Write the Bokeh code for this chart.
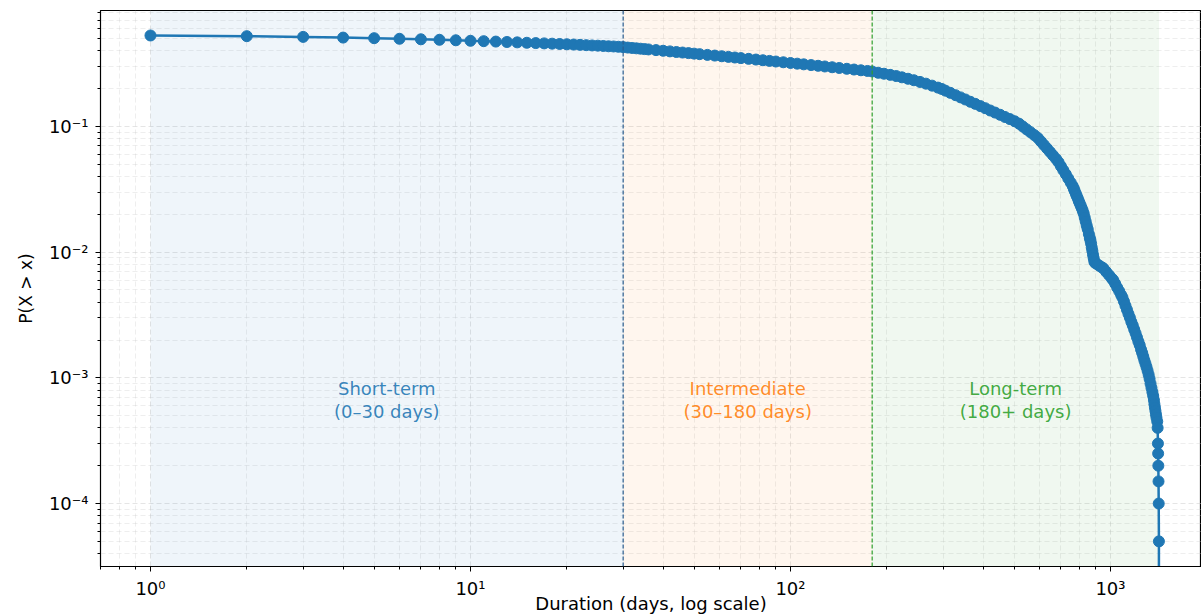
from bokeh.plotting import figure
from bokeh.models import BoxAnnotation, Span, FixedTicker, CustomJSTickFormatter, ColumnDataSource, Range1d
from bokeh.core.properties import value
from bokeh.embed import file_html
from bokeh.resources import INLINE

# ---------------- data ----------------
durations = [
    1, 2, 3, 4, 5, 6, 7, 8, 9, 10, 11, 12, 13, 14, 15, 16, 17, 18, 19, 20,
    21, 22, 23, 24, 25, 26, 27, 28, 29, 30,
    31, 32, 33, 34, 35, 36, 38, 40, 42, 44, 46, 48, 50, 52, 55, 58, 61, 64, 67, 70,
    74, 78, 82, 86, 90, 95, 100, 105, 110, 116, 122, 128, 135, 142, 150, 158, 166, 174, 180,
    188, 196, 205, 214, 223, 233, 243, 254, 265, 277, 289, 297,
    305, 316, 328, 340, 352, 365, 378, 392,
    406, 421, 436, 452, 468, 485, 502,
    518, 532, 547, 562, 578,
    593, 606, 619, 633, 647, 661, 676,
    688, 700, 712, 725, 738, 751,
    762, 768, 773, 779, 784, 790, 796, 801, 807, 813, 819,
    825, 831, 837, 843, 849, 856, 862,
    866, 870, 874, 878, 882, 886, 890,
    895, 910, 925, 940, 951,
    970, 990, 1010, 1021,
    1035, 1050, 1065, 1080, 1090,
    1102, 1114, 1126, 1138, 1150, 1162, 1174,
    1186, 1198, 1210, 1222, 1234,
    1246, 1256, 1266, 1276, 1286, 1296, 1306,
    1316, 1325, 1334, 1343, 1352, 1360,
    1367, 1372, 1377, 1382, 1387, 1392,
    1400, 1404, 1407, 1409, 1411, 1413, 1415, 1417, 1418,
]
survival = [
    0.5295, 0.5229, 0.5162, 0.5096, 0.5041, 0.4986, 0.4940, 0.4895, 0.4851, 0.4806,
    0.4771, 0.4736, 0.4701, 0.4668, 0.4634, 0.4608, 0.4583, 0.4558, 0.4533, 0.4508,
    0.4484, 0.4460, 0.4435, 0.4411, 0.4395, 0.4370, 0.4346, 0.4330, 0.4307, 0.4283,
    0.4244, 0.4214, 0.4185, 0.4156, 0.4128, 0.4102, 0.4051, 0.4003, 0.3958, 0.3914,
    0.3874, 0.3835, 0.3798, 0.3762, 0.3712, 0.3664, 0.3620, 0.3578, 0.3537, 0.3499,
    0.3452, 0.3407, 0.3365, 0.3325, 0.3287, 0.3242, 0.3200, 0.3160, 0.3122, 0.3080,
    0.3040, 0.3002, 0.2960, 0.2920, 0.2877, 0.2838, 0.2800, 0.2765, 0.2740,
    0.2673, 0.2628, 0.2574, 0.2520, 0.2461, 0.2397, 0.2333, 0.2262, 0.2191, 0.2113, 0.2038, 0.1988,
    0.1927, 0.1851, 0.1774, 0.1704, 0.1640, 0.1572, 0.1513, 0.1453,
    0.1398, 0.1340, 0.1290, 0.1239, 0.1190, 0.1145, 0.1100,
    0.1053, 0.1000, 0.0948, 0.0901, 0.0854,
    0.0810, 0.0761, 0.0715, 0.0670, 0.0628, 0.0590, 0.0552,
    0.0520, 0.0483, 0.0449, 0.0417, 0.0386, 0.0358,
    0.03362, 0.03199, 0.03073, 0.02924, 0.02809, 0.02683, 0.02553, 0.02453, 0.02347, 0.02242, 0.02135,
    0.02024, 0.01881, 0.01748, 0.01624, 0.01521, 0.01393, 0.01295,
    0.01239, 0.01166, 0.01086, 0.01022, 0.00953, 0.00898, 0.00845,
    0.00822, 0.00800, 0.00777, 0.00757, 0.00742,
    0.00697, 0.00656, 0.00617, 0.00597,
    0.00560, 0.00522, 0.00489, 0.00456, 0.00436,
    0.00405, 0.00375, 0.00348, 0.00323, 0.00301, 0.00279, 0.00261,
    0.00243, 0.00226, 0.00210, 0.00195, 0.00182,
    0.00168, 0.00158, 0.00148, 0.00138, 0.00130, 0.00122, 0.00114,
    0.00106, 0.000983, 0.000901, 0.000833, 0.000770, 0.000717,
    0.000665, 0.000617, 0.000580, 0.000546, 0.000513, 0.000484,
    0.00045, 0.0004, 0.0003, 0.00025, 0.0002, 0.00015, 0.0001, 0.00005, 0.0,
]

region_labels = ["Short-term\n(0–30 days)", "Intermediate\n(30–180 days)", "Long-term\n(180+ days)"]
region_starts = [1, 30, 180]
region_colors = ["#1f77b4", "#ff7f0e", "#2ca02c"]
label_y = 1e-3

x_major_ticks = [1, 10, 100, 1000]
y_major_ticks = [1e-4, 1e-3, 1e-2, 1e-1]

x_title = "Duration (days, log scale)"
y_title = "P(X > x)"

# ---------------- figure ----------------
X_LO, X_HI = 0.698, 1925
Y_LO, Y_HI = 3.155e-5, 0.837

p = figure(width=1201, height=616, x_axis_type="log", y_axis_type="log",
           x_range=Range1d(X_LO, X_HI), y_range=Range1d(Y_LO, Y_HI),
           output_backend="svg", toolbar_location=None,
           min_border_left=100, min_border_right=0, min_border_top=10, min_border_bottom=50)
p.background_fill_color = "white"
p.border_fill_color = "white"
p.outline_line_color = "black"
p.outline_line_width = 1.2

# shaded regions
max_d = max(durations)
region_ends = region_starts[1:] + [max_d]
for s, e, c in zip(region_starts, region_ends, region_colors):
    p.add_layout(BoxAnnotation(left=s, right=e, fill_color=c, fill_alpha=0.07, line_color=None, level="underlay"))

# dividers
p.add_layout(Span(location=region_starts[1], dimension="height", line_color="#2a5d8f",
                  line_dash="4 2", line_width=1.2))
p.add_layout(Span(location=region_starts[2], dimension="height", line_color="#2ca02c",
                  line_dash="4 2", line_width=1.2))

# ticks
def minors(lo_exp, hi_exp):
    out = []
    for k in range(lo_exp, hi_exp + 1):
        for m in range(2, 10):
            out.append(m * 10.0 ** k)
    return out

x_ticker = FixedTicker(ticks=x_major_ticks, minor_ticks=minors(-1, 3))
y_ticker = FixedTicker(ticks=y_major_ticks, minor_ticks=minors(-6, 0))
p.xaxis.ticker = x_ticker
p.yaxis.ticker = y_ticker
p.xgrid.ticker = x_ticker
p.ygrid.ticker = y_ticker

fmt = CustomJSTickFormatter(code="""
const sup = {'-':'\u207b','0':'\u2070','1':'\u00b9','2':'\u00b2','3':'\u00b3','4':'\u2074','5':'\u2075','6':'\u2076','7':'\u2077','8':'\u2078','9':'\u2079'};
const e = Math.round(Math.log10(tick));
return '10' + String(e).split('').map(c => sup[c]).join('');
""")
p.xaxis.formatter = fmt
p.yaxis.formatter = fmt

for ax in (p.xaxis, p.yaxis):
    ax.major_label_text_font = "DejaVu Sans"
    ax.major_label_text_font_size = "18px"
    ax.major_label_text_color = "black"
    ax.axis_label_text_font = "DejaVu Sans"
    ax.axis_label_text_font_size = "17px"
    ax.axis_label_text_font_style = "normal"
    ax.axis_label_text_color = "black"
    ax.axis_line_color = "black"
    ax.major_tick_line_color = "black"
    ax.minor_tick_line_color = "black"
    ax.major_tick_in = 0
    ax.major_tick_out = 5
    ax.minor_tick_in = 0
    ax.minor_tick_out = 3

p.xaxis.major_label_standoff = 6
p.xaxis.axis_label = x_title
p.xaxis.axis_label_standoff = -9
p.xaxis.axis_label_text_font_size = "18px"
p.yaxis.major_label_standoff = 7
p.yaxis.axis_label = y_title
p.yaxis.axis_label_standoff = 10

for g in (p.xgrid, p.ygrid):
    g.grid_line_color = "#c8c8c8"
    g.grid_line_alpha = 0.6
    g.grid_line_dash = "5 3"
    g.grid_line_width = 0.8
    g.minor_grid_line_color = "#c8c8c8"
    g.minor_grid_line_alpha = 0.45
    g.minor_grid_line_dash = "5 3"
    g.minor_grid_line_width = 0.7

# curve: a survival of 0 sits at -infinity on the log axis, so the line runs off the bottom
y_line = [v if v > 0 else Y_LO / 100 for v in survival]
p.line(durations, y_line, line_color="#1f77b4", line_width=2.5)
pos = [(d, v) for d, v in zip(durations, survival) if v > 0]
p.scatter([d for d, _ in pos], [v for _, v in pos], size=11, marker="circle",
          fill_color="#1f77b4", line_color="#1f77b4")

# region labels
centers = [(s * e) ** 0.5 for s, e in zip(region_starts, region_ends)]
src = ColumnDataSource(dict(x=centers, y=[label_y] * 3, t=region_labels, c=region_colors))
p.text(x="x", y="y", text="t", source=src, text_color="c", text_align="center",
       text_baseline="top", text_font=value("DejaVu Sans"), text_font_size="18px",
       text_line_height=1.1, text_alpha=0.9)

open("out.html", "w").write(file_html(p, INLINE))
